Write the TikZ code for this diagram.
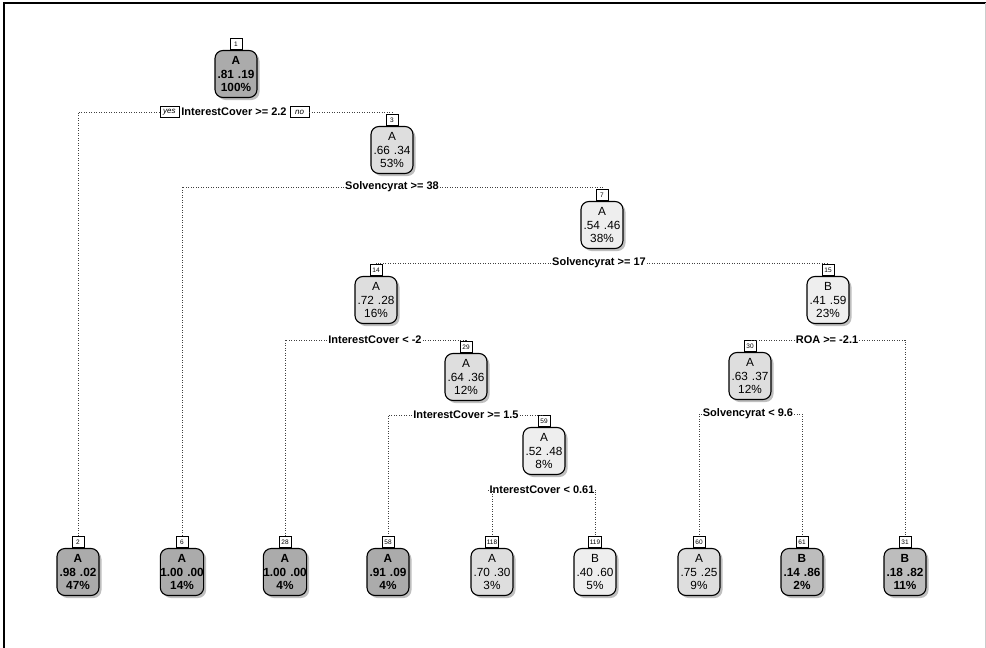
\documentclass[tikz,border=0pt]{standalone}
\usepackage{fontspec}
\setmainfont{Liberation Sans}
\usetikzlibrary{positioning,shadows}
\definecolor{gdark}{HTML}{ABABAB}
\definecolor{gmid}{HTML}{BDBDBD}
\definecolor{glight}{HTML}{DEDEDE}
\definecolor{gpale}{HTML}{EEEEEE}
\newcommand{\gap}{\hspace{4pt}}

\begin{document}
\begin{tikzpicture}[x=1pt,y=-1pt,
    box/.style={draw,line width=1.1pt,rounded corners=8pt,minimum width=42pt,minimum height=47pt,
      inner sep=0pt,align=center,font=\fontsize{11.8}{13.5}\selectfont,
      drop shadow={shadow xshift=2.5pt,shadow yshift=-2.5pt,opacity=0.25,fill=black}},
    dark/.style={box,font=\bfseries\fontsize{11.8}{13.5}\selectfont},
    num/.style={draw,fill=white,line width=0.8pt,font=\fontsize{6.5}{7}\selectfont,inner sep=1pt,
      minimum width=12pt,minimum height=11.5pt},
    split/.style={font=\bfseries\fontsize{11}{12}\selectfont,inner sep=1pt},
    yesno/.style={draw,line width=0.7pt,font=\itshape\fontsize{8}{9}\selectfont,inner sep=1pt,
      minimum width=19pt,minimum height=11.5pt},
    arc/.style={dash pattern=on 0.9pt off 1.6pt,line width=0.9pt,black!75}]
  \useasboundingbox (0,0) rectangle (986,648);
  \draw[line width=2pt] (4,648) -- (4,3) -- (986,3);
  \draw[black!20] (985,3) -- (985,648);

  % inner nodes
  \draw (236,74) node[dark,fill=gdark] (n1) {A\\.81\gap.19\\100\%};
  \draw (392,150) node[box,fill=glight] (n3) {A\\.66\gap.34\\53\%};
  \draw (602,225) node[box,fill=gpale] (n7) {A\\.54\gap.46\\38\%};
  \draw (376,300) node[box,fill=glight] (n14) {A\\.72\gap.28\\16\%};
  \draw (828,300) node[box,fill=gpale] (n15) {B\\.41\gap.59\\23\%};
  \draw (466,377) node[box,fill=glight] (n29) {A\\.64\gap.36\\12\%};
  \draw (750,376) node[box,fill=glight] (n30) {A\\.63\gap.37\\12\%};
  \draw (544,451) node[box,fill=gpale] (n59) {A\\.52\gap.48\\8\%};

  % leaves
  \draw (78,572) node[dark,fill=gdark] (l2) {A\\.98\gap.02\\47\%};
  \draw (182,572) node[dark,fill=gdark] (l6) {A\\1.00\gap.00\\14\%};
  \draw (285,572) node[dark,fill=gdark] (l28) {A\\1.00\gap.00\\4\%};
  \draw (388,572) node[dark,fill=gdark] (l58) {A\\.91\gap.09\\4\%};
  \draw (492,572) node[box,fill=glight] (l118) {A\\.70\gap.30\\3\%};
  \draw (595,572) node[box,fill=gpale] (l119) {B\\.40\gap.60\\5\%};
  \draw (699,572) node[box,fill=glight] (l60) {A\\.75\gap.25\\9\%};
  \draw (802,572) node[dark,fill=gmid] (l61) {B\\.14\gap.86\\2\%};
  \draw (905,572) node[dark,fill=gmid] (l31) {B\\.18\gap.82\\11\%};

  % node numbers
  \node[num,above=0pt of n1] (n1id) {1};
  \node[num,above=0pt of n3] (n3id) {3};
  \node[num,above=0pt of n7] (n7id) {7};
  \node[num,above=0pt of n14] (n14id) {14};
  \node[num,above=0pt of n15] (n15id) {15};
  \node[num,above=0pt of n29] (n29id) {29};
  \node[num,above=0pt of n30] (n30id) {30};
  \node[num,above=0pt of n59] (n59id) {59};
  \node[num,above=0pt of l2] (l2id) {2};
  \node[num,above=0pt of l6] (l6id) {6};
  \node[num,above=0pt of l28] (l28id) {28};
  \node[num,above=0pt of l58] (l58id) {58};
  \node[num,above=0pt of l118] (l118id) {118};
  \node[num,above=0pt of l119] (l119id) {119};
  \node[num,above=0pt of l60] (l60id) {60};
  \node[num,above=0pt of l61] (l61id) {61};
  \node[num,above=0pt of l31] (l31id) {31};

  % split labels
  \draw (234,112) node[split] (s1) {InterestCover >= 2.2};
  \node[yesno,left=1pt of s1] (yes) {yes};
  \node[yesno,right=2pt of s1] (no) {no};
  \draw (392,187) node[split] (s3) {Solvencyrat >= 38};
  \draw (599,263) node[split] (s7) {Solvencyrat >= 17};
  \draw (375,340) node[split] (s14) {InterestCover < -2};
  \draw (827,340) node[split] (s15) {ROA >= -2.1};
  \draw (466,415) node[split] (s29) {InterestCover >= 1.5};
  \draw (748,414) node[split] (s30) {Solvencyrat < 9.6};
  \draw (542,490) node[split] (s59) {InterestCover < 0.61};

  \draw[arc] (yes.west) -| (l2id.north);
  \draw[arc] (no.east) -| (n3id.north);
  \draw[arc] (s3.west) -| (l6id.north);
  \draw[arc] (s3.east) -| (n7id.north);
  \draw[arc] (s7.west) -| (n14id.north);
  \draw[arc] (s7.east) -| (n15id.north);
  \draw[arc] (s14.west) -| (l28id.north);
  \draw[arc] (s14.east) -| (n29id.north);
  \draw[arc] (s15.west) -| (n30id.north);
  \draw[arc] (s15.east) -| (l31id.north);
  \draw[arc] (s29.west) -| (l58id.north);
  \draw[arc] (s29.east) -| (n59id.north);
  \draw[arc] (s30.west) -| (l60id.north);
  \draw[arc] (s30.east) -| (l61id.north);
  \draw[arc] (s59.west) -| (l118id.north);
  \draw[arc] (s59.east) -| (l119id.north);
\end{tikzpicture}
\end{document}
